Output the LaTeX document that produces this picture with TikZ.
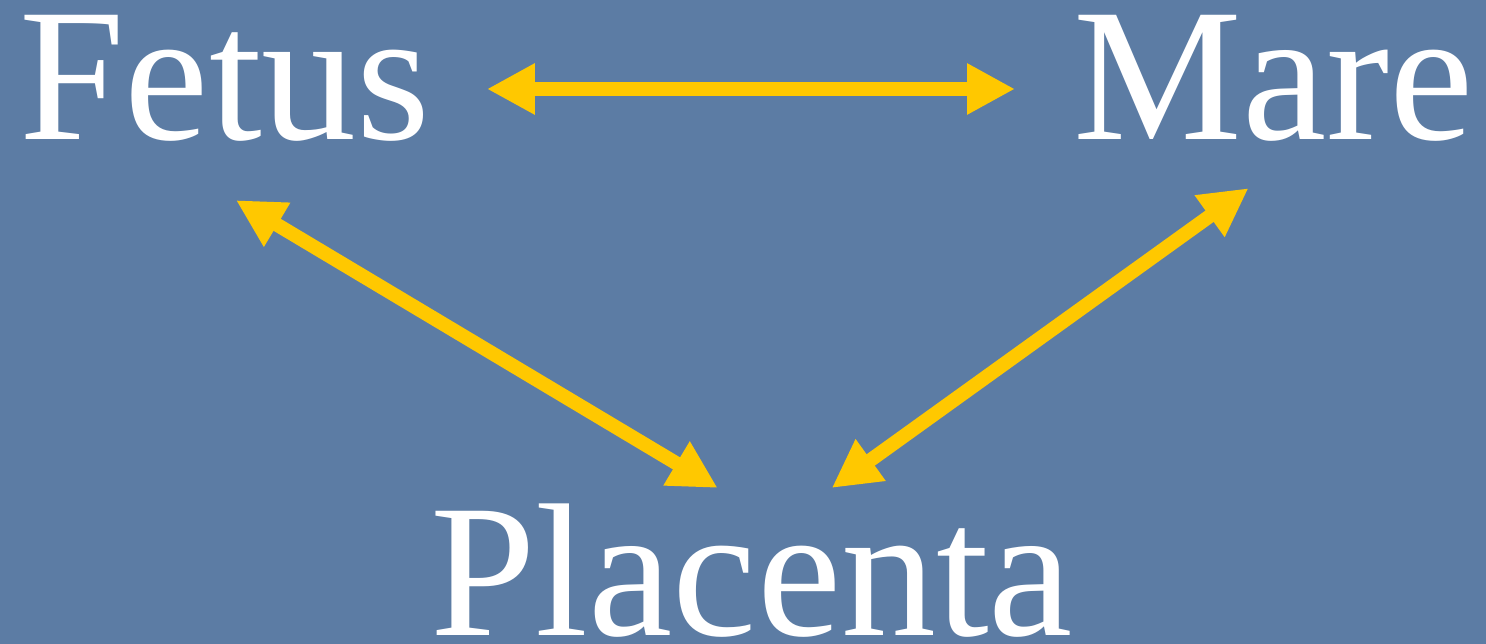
\documentclass[tikz,border=0pt]{standalone}
\usepackage{fontspec}
\setmainfont{Liberation Serif}
\usepackage{xcolor}
\usetikzlibrary{arrows.meta,positioning}
\definecolor{slide}{HTML}{5C7CA4}
\definecolor{gold}{HTML}{FFC800}
\tikzset{
  word/.style={text=white,inner sep=0pt,font=\fontsize{108}{108}\selectfont},
  twoway/.style={{Triangle[length=0.96cm,width=0.96cm]}-{Triangle[length=0.96cm,width=0.96cm]},line width=0.28cm,draw=gold}
}

\begin{document}
\begin{tikzpicture}[x=0.02cm,y=-0.02cm]
    \fill[slide] (0,0) rectangle (1486,644);
    \useasboundingbox (0,0) rectangle (1486,644);
    \node[word,anchor=base west] (fetus) at (19,140) {Fetus};
    \node[word,anchor=base west] (mare) at (1073,140) {Mare};
    \node[word,anchor=base west] (placenta) at (430,635) {Placenta};
    \draw[twoway] ([shift={(56,-51)}]fetus.base east) -- ([shift={(-58,-51)}]mare.base west);
    \draw[twoway] ([shift={(11,58)}]fetus.south) -- ([shift={(-34,-15)}]placenta.north);
    \draw[twoway] ([shift={(-25,46)}]mare.south) -- ([shift={(80,-15)}]placenta.north);
  \end{tikzpicture}
\end{document}
